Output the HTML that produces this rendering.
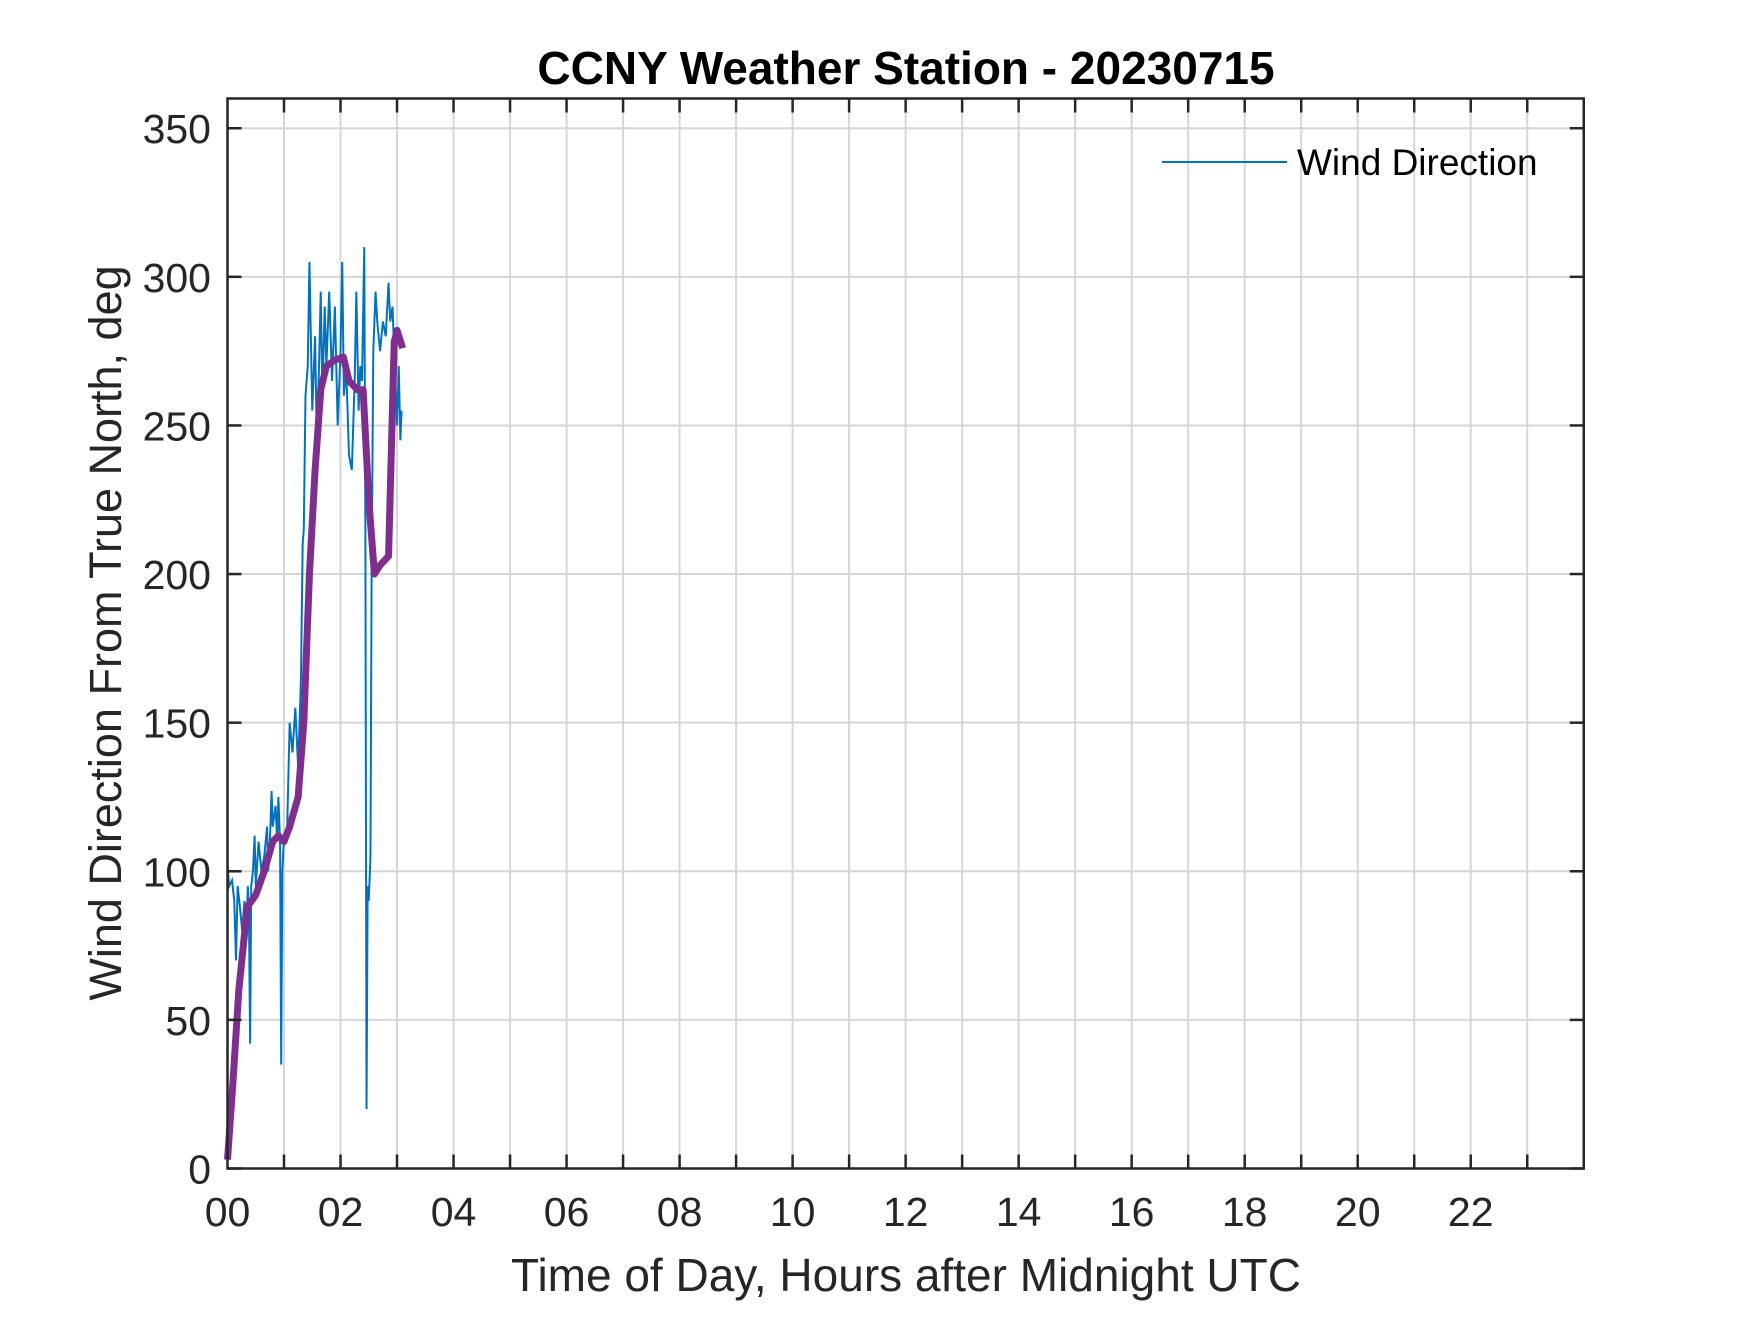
<!DOCTYPE html>
<html><head><meta charset="utf-8"><style>
body{margin:0;background:#fff}
svg text{font-family:"Liberation Sans",Arial,sans-serif;fill:#262626}
</style></head><body>
<svg id="chart" width="1750" height="1313" xmlns="http://www.w3.org/2000/svg">
<rect width="1750" height="1313" fill="#fff"/>
<g id="grid"></g>
<g id="series"></g>
<g id="axes"></g>
<text x="906" y="84" text-anchor="middle" font-size="46" font-weight="bold" style="fill:#000">CCNY Weather Station - 20230715</text>
<text x="906" y="1291" text-anchor="middle" font-size="46">Time of Day, Hours after Midnight UTC</text>
<text transform="translate(121,633) rotate(-90)" text-anchor="middle" font-size="45">Wind Direction From True North, deg</text>
<g>
<line x1="1162" y1="162" x2="1287" y2="162" stroke="#0072BD" stroke-width="2"/>
<text x="1297" y="175" font-size="37" style="fill:#000">Wind Direction</text>
</g>
</svg>
<script>
const blueT=[0,0.03,0.08,0.12,0.15,0.18,0.22,0.26,0.3,0.33,0.36,0.38,0.4,0.42,0.45,0.48,0.5,0.55,0.6,0.65,0.7,0.72,0.75,0.78,0.8,0.85,0.88,0.9,0.93,0.95,0.97,1.0,1.05,1.1,1.15,1.2,1.25,1.3,1.33,1.35,1.38,1.42,1.45,1.48,1.5,1.55,1.58,1.62,1.65,1.68,1.72,1.75,1.8,1.85,1.9,1.95,2.0,2.03,2.06,2.1,2.15,2.2,2.25,2.28,2.32,2.35,2.38,2.42,2.44,2.46,2.48,2.5,2.53,2.55,2.58,2.62,2.65,2.7,2.75,2.8,2.85,2.88,2.92,2.96,3.0,3.03,3.06,3.08];
const blueV=[102,95,97,90,70,95,88,80,90,78,95,85,42,95,100,112,95,110,100,105,115,100,110,127,115,122,110,125,110,35,100,112,110,150,140,155,135,165,210,215,260,270,305,275,255,280,245,270,295,260,290,270,295,265,290,250,275,305,260,270,240,235,265,295,255,270,265,310,215,20,95,90,105,200,275,295,285,275,285,280,298,285,290,270,250,270,245,255];
const purpleT=[0,0.1,0.2,0.35,0.5,0.65,0.8,0.9,1.0,1.1,1.25,1.35,1.45,1.55,1.65,1.75,1.9,2.05,2.15,2.3,2.4,2.5,2.6,2.7,2.85,2.95,3.0,3.05,3.1];
const purpleV=[3,30,60,88,92,100,110,112,110,115,125,150,200,235,262,270,272,273,265,262,262,225,200,203,206,278,282,279,276];
const yTicks=[0,50,100,150,200,250,300,350];
const xTickLabels=['00','02','04','06','08','10','12','14','16','18','20','22'];
const L=227.5,R=1583.75,T=98.5,B=1168.5;
const xs=h=>L+(R-L)*h/24, ys=v=>B-(B-T)*v/360;
const NS='http://www.w3.org/2000/svg';
function mk(tag,at,parent){const e=document.createElementNS(NS,tag);for(const k in at)e.setAttribute(k,at[k]);document.getElementById(parent).appendChild(e);return e;}
for(let h=1;h<24;h++){const e=mk('line',{x1:xs(h),x2:xs(h),y1:T,y2:B,stroke:'#d6d6d6','stroke-width':2},'grid');

}
yTicks.forEach(v=>{if(v===0)return;const e=mk('line',{x1:L,x2:R,y1:ys(v),y2:ys(v),stroke:'#d6d6d6','stroke-width':2},'grid');

});
const pb=mk('polyline',{points:blueT.map((t,i)=>xs(t)+','+ys(blueV[i])).join(' '),fill:'none',stroke:'#0072BD','stroke-width':2},'series');


const pp=mk('polyline',{points:purpleT.map((t,i)=>xs(t)+','+ys(purpleV[i])).join(' '),fill:'none',stroke:'#7E2F8E','stroke-width':7,'stroke-linejoin':'round'},'series');


const fr=mk('rect',{x:L,y:T,width:R-L,height:B-T,fill:'none',stroke:'#262626','stroke-width':2.5},'axes');


for(let h=1;h<24;h++){[[B,B-14],[T,T+14]].forEach(p=>{const e=mk('line',{x1:xs(h),x2:xs(h),y1:p[0],y2:p[1],stroke:'#262626','stroke-width':2.5},'axes');

});}
xTickLabels.forEach((s,i)=>{const e=mk('text',{x:xs(i*2),y:1226,'text-anchor':'middle','font-size':41},'axes');e.textContent=s;

});
yTicks.forEach(v=>{[[L,L+14],[R,R-14]].forEach(p=>{const e=mk('line',{x1:p[0],x2:p[1],y1:ys(v),y2:ys(v),stroke:'#262626','stroke-width':2.5},'axes');

});
const t=mk('text',{x:211,y:ys(v)+15,'text-anchor':'end','font-size':41},'axes');t.textContent=v;

});
</script>
</body></html>
